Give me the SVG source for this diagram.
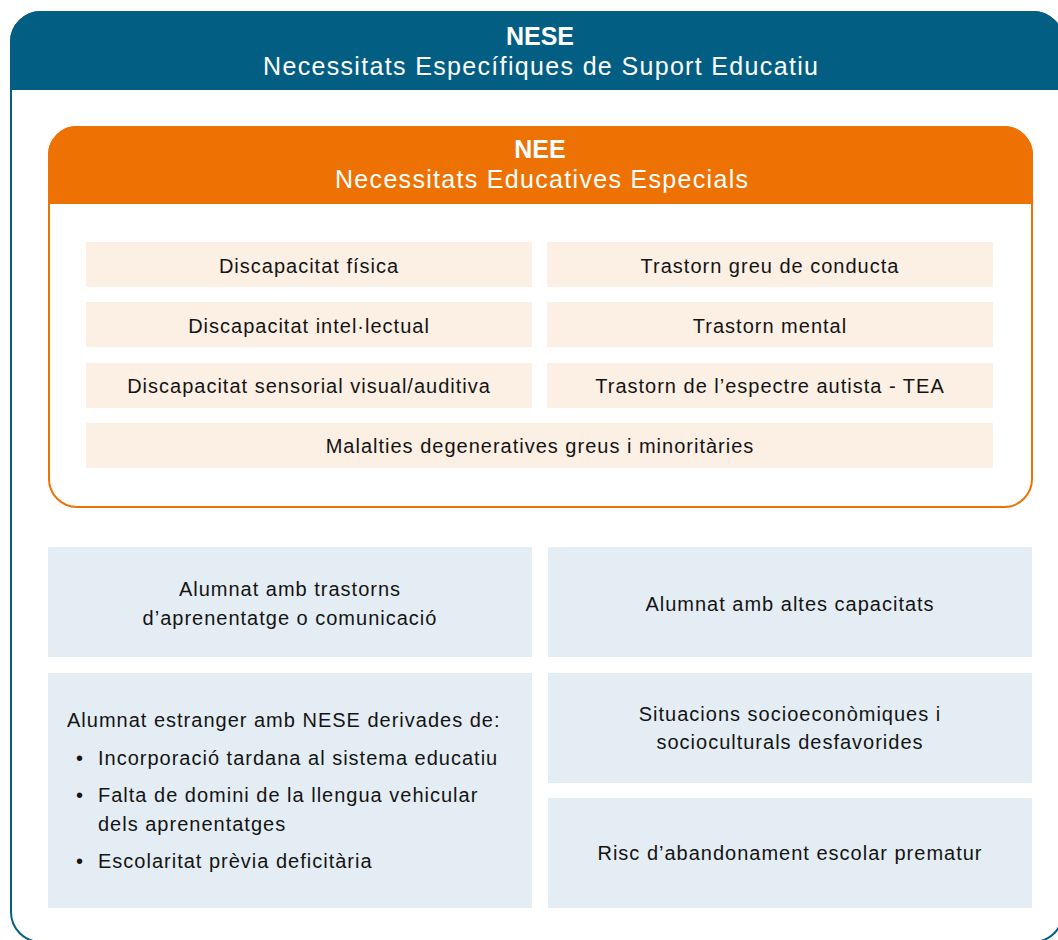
<svg xmlns="http://www.w3.org/2000/svg" width="1058" height="940" viewBox="0 0 1058 940">
  <style>
    .hdr { font-family: "Liberation Sans", Arial, sans-serif; fill: #ffffff; font-size: 25px; text-anchor: middle; }
    .hdrb { font-weight: bold; }
    .t { font-family: "Liberation Sans", Arial, sans-serif; fill: #141414; font-size: 20px; letter-spacing: 1px; }
    .c { text-anchor: middle; }
    .pink { fill: #FCEFE4; }
    .grey { fill: #E4EDF3; }
  </style>
  <rect width="1058" height="940" fill="#ffffff"/>

  <g id="nese">
    <rect x="11" y="12" width="1052" height="930" rx="30" ry="30" fill="#ffffff" stroke="#035E84" stroke-width="2"/>
    <path d="M11,89 V42 A30,30 0 0 1 41,12 H1033 A30,30 0 0 1 1063,42 V89 Z" fill="#035E84" stroke="#035E84" stroke-width="2"/>
    <text class="hdr hdrb" x="540" y="45">NESE</text>
    <text class="hdr" x="540.5" y="75" textLength="555" lengthAdjust="spacing">Necessitats Específiques de Suport Educatiu</text>
  </g>

  <g id="nee">
    <rect x="49" y="127" width="983" height="380" rx="28" ry="28" fill="#ffffff" stroke="#EE7203" stroke-width="2"/>
    <path d="M49,203 V155 A28,28 0 0 1 77,127 H1004 A28,28 0 0 1 1032,155 V203 Z" fill="#EE7203" stroke="#EE7203" stroke-width="2"/>
    <text class="hdr hdrb" x="540" y="158">NEE</text>
    <text class="hdr" x="541.5" y="188" textLength="413" lengthAdjust="spacing">Necessitats Educatives Especials</text>
  </g>

  <g id="nee-fisica">
    <rect class="pink" x="86" y="242" width="446" height="45"/>
    <text class="t c" x="309" y="273">Discapacitat física</text>
  </g>
  <g id="nee-conducta">
    <rect class="pink" x="547" y="242" width="446" height="45"/>
    <text class="t c" x="770" y="273">Trastorn greu de conducta</text>
  </g>
  <g id="nee-intel">
    <rect class="pink" x="86" y="302" width="446" height="45"/>
    <text class="t c" x="309" y="333">Discapacitat intel·lectual</text>
  </g>
  <g id="nee-mental">
    <rect class="pink" x="547" y="302" width="446" height="45"/>
    <text class="t c" x="770" y="333">Trastorn mental</text>
  </g>
  <g id="nee-sensorial">
    <rect class="pink" x="86" y="363" width="446" height="45"/>
    <text class="t c" x="309" y="393">Discapacitat sensorial visual/auditiva</text>
  </g>
  <g id="nee-tea">
    <rect class="pink" x="547" y="363" width="446" height="45"/>
    <text class="t c" x="770" y="393">Trastorn de l’espectre autista - TEA</text>
  </g>
  <g id="nee-malalties">
    <rect class="pink" x="86" y="423" width="907" height="45"/>
    <text class="t c" x="540" y="453">Malalties degeneratives greus i minoritàries</text>
  </g>

  <g id="aprenentatge">
    <rect class="grey" x="48" y="547" width="484" height="110"/>
    <text class="t c" x="290" y="596">Alumnat amb trastorns</text>
    <text class="t c" x="290" y="625">d’aprenentatge o comunicació</text>
  </g>
  <g id="altes-capacitats">
    <rect class="grey" x="548" y="547" width="484" height="110"/>
    <text class="t c" x="790" y="611">Alumnat amb altes capacitats</text>
  </g>
  <g id="estranger">
    <rect class="grey" x="48" y="673" width="484" height="235"/>
    <text class="t" x="67" y="727">Alumnat estranger amb NESE derivades de:</text>
    <text class="t" x="76" y="765">•</text>
    <text class="t" x="98" y="765">Incorporació tardana al sistema educatiu</text>
    <text class="t" x="76" y="802">•</text>
    <text class="t" x="98" y="802">Falta de domini de la llengua vehicular</text>
    <text class="t" x="98" y="831">dels aprenentatges</text>
    <text class="t" x="76" y="868">•</text>
    <text class="t" x="98" y="868">Escolaritat prèvia deficitària</text>
  </g>
  <g id="socioeconomiques">
    <rect class="grey" x="548" y="673" width="484" height="110"/>
    <text class="t c" x="790" y="721">Situacions socioeconòmiques i</text>
    <text class="t c" x="790" y="749">socioculturals desfavorides</text>
  </g>
  <g id="abandonament">
    <rect class="grey" x="548" y="798" width="484" height="110"/>
    <text class="t c" x="790" y="860">Risc d’abandonament escolar prematur</text>
  </g>

  <g id="connectors"/>
</svg>
